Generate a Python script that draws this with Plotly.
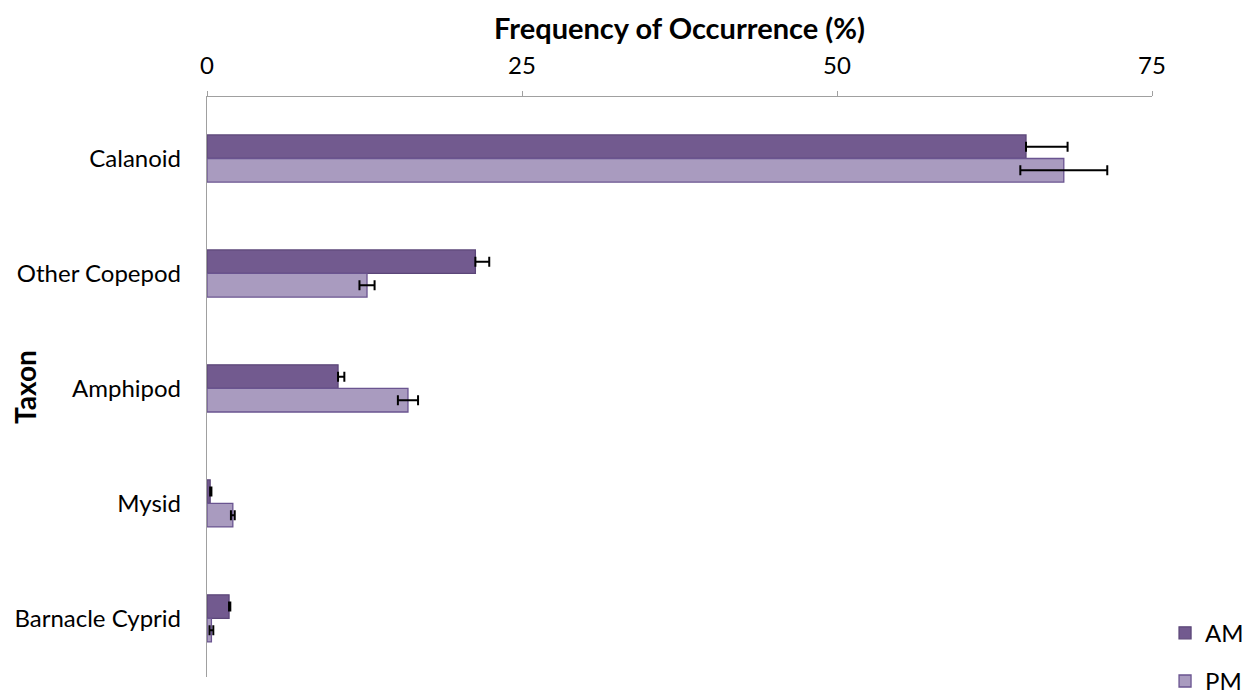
import plotly.graph_objects as go

categories = ["Calanoid", "Other Copepod", "Amphipod", "Mysid", "Barnacle Cyprid"]
am_values = [65.0, 21.3, 10.4, 0.25, 1.75]
am_err = [3.3, 1.1, 0.5, 0.1, 0.1]
pm_values = [68.0, 12.7, 15.95, 2.05, 0.35]
pm_err = [3.45, 0.6, 0.8, 0.15, 0.15]
x_ticks = [0, 25, 50, 75]

AM_FILL = "#725a8f"
AM_LINE = "#5c4779"
PM_FILL = "#a99bbf"
PM_LINE = "#6a5490"
FONT = "Lato, Open Sans, sans-serif"

fig = go.Figure()
fig.add_trace(go.Bar(
    y=categories, x=am_values, orientation="h", name="AM", legendgroup="am",
    marker=dict(color=AM_FILL, line=dict(color=AM_LINE, width=1.3)),
    error_x=dict(type="data", array=am_err, arrayminus=[0] * len(am_err), symmetric=False,
                 color="black", thickness=2, width=5),
))
fig.add_trace(go.Bar(
    y=categories, x=pm_values, orientation="h", name="PM", legendgroup="pm",
    marker=dict(color=PM_FILL, line=dict(color=PM_LINE, width=1.3)),
    error_x=dict(type="data", array=pm_err, symmetric=True,
                 color="black", thickness=2, width=5),
))

fig.update_layout(
    width=1252, height=694,
    margin=dict(l=199, r=108, t=89, b=25, autoexpand=False),
    paper_bgcolor="white", plot_bgcolor="white",
    barmode="group", bargap=0.59, bargroupgap=0,
    font=dict(family=FONT, size=24, color="black"),
    showlegend=True,
    legend=dict(x=1.0138, xanchor="left", y=-0.046, yanchor="bottom",
                font=dict(size=24), tracegroupgap=14, traceorder="grouped",
                itemwidth=30, bgcolor="rgba(0,0,0,0)"),
    xaxis=dict(
        side="top", range=[0, 75], tickvals=x_ticks, ticktext=[str(t) for t in x_ticks],
        ticks="outside", ticklen=5, tickcolor="#a0a0a0", tickwidth=1.3,
        showline=True, linecolor="#a0a0a0", linewidth=1.3, automargin=False,
        showgrid=False, zeroline=False, ticklabelstandoff=7,
        title=dict(text="<b>Frequency of Occurrence (%)</b>", font=dict(size=29), standoff=2),
    ),
    yaxis=dict(
        range=[4.51, -0.535], showline=True, linecolor="#a0a0a0", linewidth=1.3,
        showgrid=False, zeroline=False, ticks="", ticklabelstandoff=20, automargin=False,
        title=dict(text="<b>Taxon</b>", font=dict(size=28), standoff=7),
    ),
)

fig.write_html("out.html")
